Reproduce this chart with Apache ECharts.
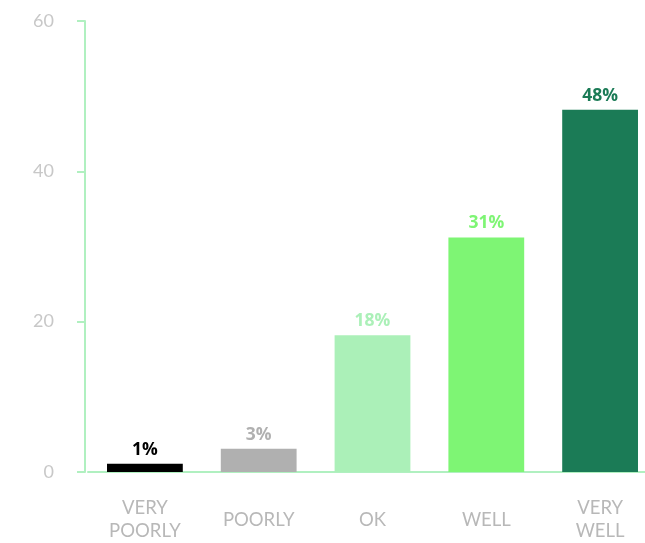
<!DOCTYPE html>
<html>
<head>
<meta charset="utf-8">
<script src="https://cdn.jsdelivr.net/npm/echarts@6/dist/echarts.min.js"></script>
<style>html,body{margin:0;padding:0;background:#fff;overflow:hidden}#c{width:657px;height:543px}</style>
</head>
<body>
<div id="c"></div>
<script>
var categories = ['VERY\nPOORLY', 'POORLY', 'OK', 'WELL', 'VERY\nWELL'];
var values = [1.1, 3.1, 18.2, 31.2, 48.2];
var valueLabels = ['1%', '3%', '18%', '31%', '48%'];
var barColors = ['#000000', '#b0b0b0', '#abf0b8', '#7ef574', '#1b7b56'];
var yTicks = [0, 20, 40, 60];

var chart = echarts.init(document.getElementById('c'));
var axisGreen = '#b0f0c0';
chart.setOption({
  animation: false,
  grid: { left: 88, top: 21, right: 0, bottom: 67, containLabel: false },
  xAxis: {
    type: 'category',
    data: categories,
    axisLine: { lineStyle: { color: axisGreen, width: 2 } },
    axisTick: { show: false },
    axisLabel: {
      color: '#b8b8b8', fontFamily: 'Lato', fontSize: 18.5,
      lineHeight: 23, verticalAlign: 'middle', margin: 48
    }
  },
  yAxis: {
    type: 'value',
    min: yTicks[0], max: yTicks[yTicks.length - 1], interval: 20,
    offset: 3,
    splitLine: { show: false },
    axisLine: { show: true, lineStyle: { color: axisGreen, width: 2 } },
    axisTick: { show: true, length: 8, lineStyle: { color: axisGreen, width: 2 } },
    axisLabel: { color: '#c8c8c8', fontFamily: 'Lato', fontSize: 18, margin: 31, padding: [4, 0, 0, 0] }
  },
  series: [{
    type: 'bar',
    barCategoryGap: '33.4%',
    data: values.map(function (v, i) {
      return {
        value: v,
        itemStyle: { color: barColors[i] },
        label: { color: barColors[i] }
      };
    }),
    label: {
      show: true, position: 'top', distance: 5,
      fontFamily: 'Open Sans', fontWeight: 'bold', fontSize: 17.5,
      formatter: function (p) { return valueLabels[p.dataIndex]; }
    }
  }]
});
</script>
</body>
</html>
